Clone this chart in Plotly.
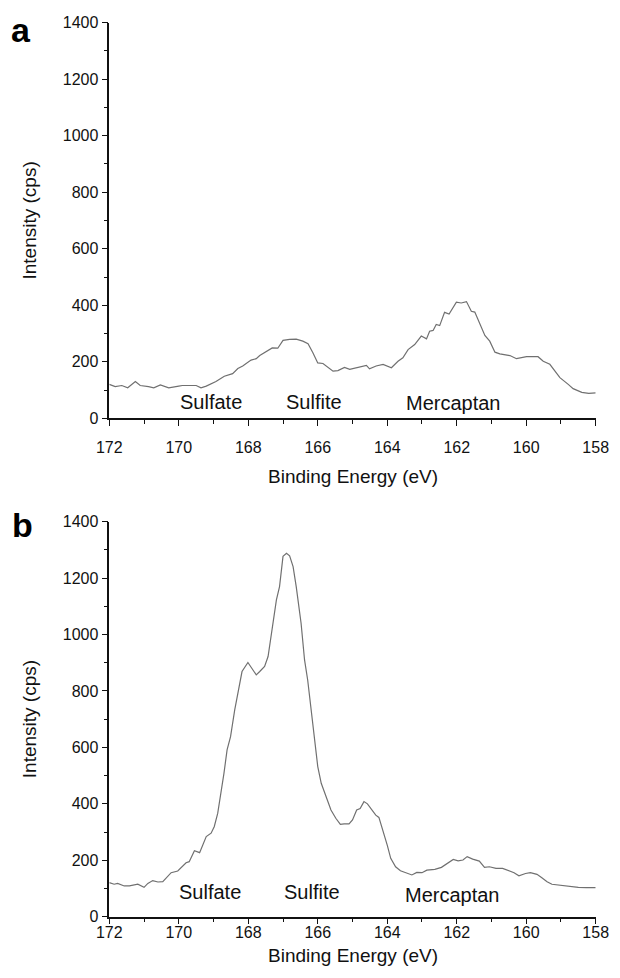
import plotly.graph_objects as go

# ---------------- data ----------------
energy_a = [172.0, 171.83, 171.64, 171.47, 171.25, 171.11, 170.87, 170.72, 170.53, 170.29,
            170.0, 169.9, 169.5, 169.36, 169.21, 168.93, 168.69, 168.45, 168.30, 168.16,
            167.92, 167.77, 167.67, 167.49, 167.31, 167.15, 167.0, 166.81, 166.62, 166.43,
            166.28, 166.14, 166.0, 165.85, 165.75, 165.56, 165.42, 165.23, 165.08, 164.89,
            164.60, 164.51, 164.32, 164.12, 163.98, 163.88, 163.69, 163.55, 163.40, 163.21,
            163.02, 162.87, 162.78, 162.68, 162.59, 162.49, 162.35, 162.22, 162.01, 161.87,
            161.72, 161.58, 161.48, 161.33, 161.19, 161.05, 160.90, 160.76, 160.62, 160.47,
            160.28, 159.99, 159.66, 159.51, 159.32, 159.03, 158.79, 158.65, 158.4, 158.2, 158.0]
intensity_a = [120, 112, 116, 108, 130, 116, 112, 108, 118, 108,
               114, 116, 116, 108, 114, 130, 149, 158, 176, 185,
               206, 211, 222, 234, 249, 248, 276, 279, 280, 273,
               264, 232, 196, 194, 185, 167, 169, 180, 173, 178,
               187, 175, 185, 191, 185, 179, 202, 214, 243, 261,
               291, 281, 308, 311, 332, 328, 375, 369, 411, 408,
               413, 379, 376, 332, 293, 273, 234, 228, 226, 222,
               211, 218, 218, 202, 191, 144, 120, 105, 92, 88, 90]

energy_b = [172.0, 171.86, 171.76, 171.57, 171.42, 171.18, 171.0, 170.89, 170.75, 170.60,
            170.46, 170.32, 170.22, 170.03, 169.93, 169.79, 169.70, 169.55, 169.40, 169.21,
            169.07, 168.98, 168.88, 168.78, 168.70, 168.61, 168.51, 168.39, 168.30, 168.18,
            168.01, 167.89, 167.77, 167.67, 167.53, 167.43, 167.34, 167.19, 167.10, 167.0,
            166.9, 166.81, 166.71, 166.62, 166.48, 166.38, 166.29, 166.19, 166.10, 166.0,
            165.90, 165.76, 165.62, 165.48, 165.35, 165.24, 165.10, 165.0, 164.88, 164.78,
            164.67, 164.57, 164.43, 164.33, 164.24, 164.14, 164.0, 163.9, 163.76, 163.62,
            163.43, 163.29, 163.15, 163.0, 162.86, 162.63, 162.44, 162.25, 162.10, 161.96,
            161.82, 161.70, 161.54, 161.35, 161.2, 161.06, 160.87, 160.68, 160.49, 160.35,
            160.21, 160.02, 159.88, 159.69, 159.55, 159.40, 159.26, 159.07, 158.88, 158.69,
            158.5, 158.27, 158.0]
intensity_b = [121, 115, 118, 109, 109, 115, 104, 118, 128, 123,
               124, 142, 156, 162, 174, 191, 195, 234, 227, 284,
               296, 319, 366, 437, 508, 591, 638, 733, 786, 869,
               901, 881, 857, 869, 887, 922, 993, 1123, 1170, 1277,
               1288, 1279, 1241, 1170, 1040, 910, 839, 733, 626, 532,
               473, 426, 378, 349, 327, 329, 329, 343, 378, 383,
               408, 400, 378, 360, 352, 313, 254, 207, 177, 163,
               153, 148, 157, 156, 165, 168, 175, 191, 203, 198,
               201, 213, 204, 197, 175, 177, 171, 171, 163, 156,
               145, 153, 156, 150, 138, 124, 115, 112, 110, 106,
               104, 103, 103]

peak_labels = ["Sulfate", "Sulfite", "Mercaptan"]
label_x_a = [169.08, 166.11, 162.08]
label_y_a = [59, 59, 53]
label_x_b = [169.1, 166.17, 162.12]
label_y_b = [86, 86, 77]

x_ticks = [172, 170, 168, 166, 164, 162, 160, 158]
y_ticks = [0, 200, 400, 600, 800, 1000, 1200, 1400]

panel_names = ["a", "b"]
x_title = "Binding Energy (eV)"
y_title = "Intensity (cps)"

# ---------------- figure ----------------
FONT = "Liberation Sans, Arial, sans-serif"
W, H = 620, 978
LINE_COLOR = "#707070"

fig = go.Figure()
fig.add_trace(go.Scatter(x=energy_a, y=intensity_a, mode="lines",
                         line=dict(color=LINE_COLOR, width=1.2),
                         xaxis="x", yaxis="y", showlegend=False))
fig.add_trace(go.Scatter(x=energy_b, y=intensity_b, mode="lines",
                         line=dict(color=LINE_COLOR, width=1.2),
                         xaxis="x2", yaxis="y2", showlegend=False))

xdom = [109.3 / W, 595.7 / W]
ydom_a = [(H - 418.3) / H, (H - 22.7) / H]
ydom_b = [(H - 916.7) / H, (H - 521.7) / H]

def xaxis_cfg(anchor, standoff):
    return dict(domain=xdom, anchor=anchor, range=[172, 158], autorange=False,
                tickvals=x_ticks, ticks="outside", ticklen=6, tickwidth=1.3,
                tickcolor="#111", showline=True, linecolor="#111", linewidth=1.5,
                showgrid=False, zeroline=False, automargin=False,
                ticklabelstandoff=standoff,
                tickfont=dict(family=FONT, size=16, color="#111"),
                minor=dict(dtick=1, tick0=0, ticks="outside", ticklen=4,
                           tickwidth=1.3, tickcolor="#111", showgrid=False))

def yaxis_cfg(anchor, dom):
    return dict(domain=dom, anchor=anchor, range=[0, 1400], autorange=False,
                tickvals=y_ticks, ticks="outside", ticklen=6, tickwidth=1.3,
                tickcolor="#111", showline=True, linecolor="#111", linewidth=1.5,
                showgrid=False, zeroline=False, automargin=False,
                tickfont=dict(family=FONT, size=16, color="#111"),
                minor=dict(dtick=100, tick0=0, ticks="outside", ticklen=4,
                           tickwidth=1.3, tickcolor="#111", showgrid=False))

fig.update_layout(
    width=W, height=H,
    margin=dict(l=0, r=0, t=0, b=0),
    paper_bgcolor="white", plot_bgcolor="white",
    showlegend=False,
    xaxis=xaxis_cfg("y", 8),
    yaxis=yaxis_cfg("x", ydom_a),
    xaxis2=xaxis_cfg("y2", -6),
    yaxis2=yaxis_cfg("x2", ydom_b),
)

annotations = []
# peak labels
for xr, yr, xs, ys in [("x", "y", label_x_a, label_y_a), ("x2", "y2", label_x_b, label_y_b)]:
    for t, xv, yv in zip(peak_labels, xs, ys):
        annotations.append(dict(text=t, x=xv, y=yv, xref=xr, yref=yr, showarrow=False,
                                xanchor="center", yanchor="middle",
                                font=dict(family=FONT, size=20, color="#111")))

# axis titles
xc = (109.3 + 595.7) / 2 / W
for ycen in [476, 955]:
    annotations.append(dict(text=x_title, x=xc, y=(H - ycen) / H, xref="paper", yref="paper",
                            showarrow=False, xanchor="center", yanchor="middle",
                            font=dict(family=FONT, size=19, color="#111")))
for ycen in [220.5, 719.2]:
    annotations.append(dict(text=y_title, x=29 / W, y=(H - ycen) / H, xref="paper", yref="paper",
                            showarrow=False, xanchor="center", yanchor="middle", textangle=-90,
                            font=dict(family=FONT, size=19, color="#111")))

# panel letters
for name, xc_, yc_ in [("a", 21, 29.8), ("b", 22.7, 524.8)]:
    annotations.append(dict(text="<b>%s</b>" % name, x=xc_ / W, y=(H - yc_) / H,
                            xref="paper", yref="paper", showarrow=False,
                            xanchor="center", yanchor="middle",
                            font=dict(family=FONT, size=34, color="#000")))

fig.update_layout(annotations=annotations)
fig.write_html("out.html")
